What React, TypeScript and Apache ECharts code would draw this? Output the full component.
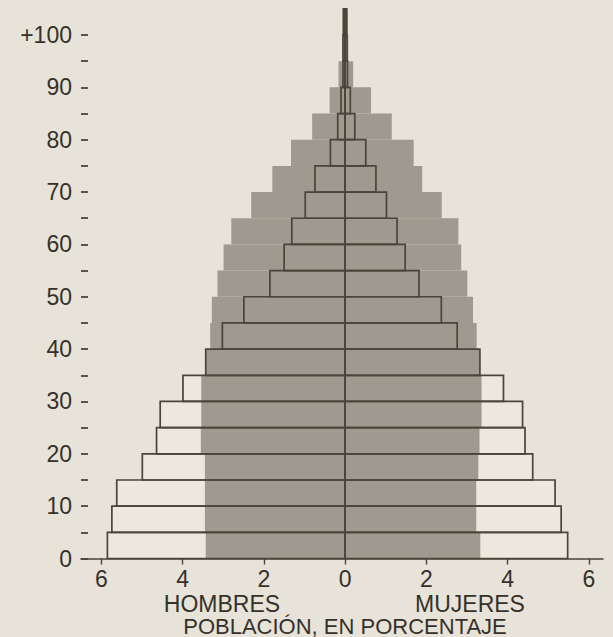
import React, { useEffect, useRef } from "react";
import * as echarts from "echarts";

// Age groups (5-year bands), start age of each band
const ageStarts = [0, 5, 10, 15, 20, 25, 30, 35, 40, 45, 50, 55, 60, 65, 70, 75, 80, 85, 90, 95, 100];
const ageLabels = ["0-4", "5-9", "10-14", "15-19", "20-24", "25-29", "30-34", "35-39", "40-44", "45-49", "50-54", "55-59", "60-64", "65-69", "70-74", "75-79", "80-84", "85-89", "90-94", "95-99", "+100"];

// Outlined pyramid (percent of population)
const hombresContorno = [5.85, 5.74, 5.62, 4.99, 4.64, 4.55, 3.99, 3.43, 3.02, 2.49, 1.85, 1.5, 1.31, 0.98, 0.74, 0.36, 0.18, 0.1, 0.05, 0.05, 0.04];
const mujeresContorno = [5.48, 5.32, 5.17, 4.62, 4.43, 4.37, 3.9, 3.32, 2.76, 2.37, 1.82, 1.48, 1.28, 1.02, 0.76, 0.51, 0.24, 0.13, 0.06, 0.05, 0.04];

// Shaded (stippled) pyramid (percent of population)
const hombresSombreado = [3.43, 3.45, 3.45, 3.45, 3.55, 3.54, 3.54, 3.43, 3.32, 3.28, 3.14, 2.99, 2.8, 2.31, 1.79, 1.33, 0.81, 0.38, 0.16, 0.07, 0.06];
const mujeresSombreado = [3.33, 3.23, 3.23, 3.28, 3.31, 3.36, 3.36, 3.32, 3.24, 3.15, 3.01, 2.86, 2.79, 2.38, 1.9, 1.69, 1.15, 0.64, 0.2, 0.08, 0.07];

const xTicks = [-6, -4, -2, 0, 2, 4, 6];
const yTicks = [0, 5, 10, 15, 20, 25, 30, 35, 40, 45, 50, 55, 60, 65, 70, 75, 80, 85, 90, 95, 100];
const yLabels = [0, 10, 20, 30, 40, 50, 60, 70, 80, 90, 100];

const BAND = 5;
const FONT = "'Liberation Sans', Arial, Helvetica, sans-serif";
const INK = "#35312a";
const LINE = "#4a443a";
const PAPER = "#e7e3d8";

export default function App() {
  const ref = useRef<HTMLDivElement>(null);

  useEffect(() => {
    if (!ref.current) return;
    const chart = echarts.init(ref.current, undefined, { renderer: "svg" });

    const contorno = ageStarts.map((s, i) => [s, s + BAND, hombresContorno[i], mujeresContorno[i], ageLabels[i]]);
    const sombreado = ageStarts.map((s, i) => [s, s + BAND, hombresSombreado[i], mujeresSombreado[i], ageLabels[i]]);

    const corners = (api: any) => {
      const start = api.value(0);
      const end = api.value(1);
      const men = api.value(2);
      const women = api.value(3);
      const a = api.coord([-men, end]);
      const b = api.coord([0, start]);
      const c = api.coord([women, start]);
      return { a, b, c };
    };

    const textStyle = (text: string, size: number) => ({
      text,
      font: `${size}px ${FONT}`,
      fill: INK,
      align: "center",
      verticalAlign: "middle",
      lineHeight: 17,
    });

    chart.setOption({
      animation: false,
      backgroundColor: PAPER,
      grid: { left: 81, right: 10, top: 3.6, bottom: 78.5, containLabel: false },
      xAxis: {
        type: "value",
        min: -6.5,
        max: 6.35,
        splitLine: { show: false },
        axisLine: { show: true, onZero: false, lineStyle: { color: LINE, width: 1.6 } },
        axisTick: { show: true, inside: false, length: 6, customValues: xTicks, lineStyle: { color: LINE, width: 1.4 } },
        axisLabel: {
          customValues: xTicks,
          margin: 9,
          fontFamily: FONT,
          fontSize: 23,
          color: INK,
          formatter: (v: number) => String(Math.abs(v)),
        },
      },
      yAxis: {
        type: "value",
        min: 0,
        max: 106,
        position: "left",
        splitLine: { show: false },
        axisLine: { show: true, onZero: false, lineStyle: { color: PAPER, width: 0, opacity: 0 } },
        axisTick: { show: true, inside: true, length: 7, customValues: yTicks, lineStyle: { color: LINE, width: 1.8 } },
        axisLabel: {
          customValues: yLabels,
          margin: 9,
          fontFamily: FONT,
          fontSize: 23,
          color: INK,
          formatter: (v: number) => (v === 100 ? "+100" : String(v)),
        },
      },
      series: [
        {
          type: "custom",
          name: "contorno-relleno",
          clip: false,
          encode: { x: [2, 3], y: [0, 1] },
          data: contorno,
          renderItem: (params: any, api: any) => {
            const { a, c } = corners(api);
            return {
              type: "rect",
              shape: { x: a[0], y: a[1], width: c[0] - a[0], height: c[1] - a[1] },
              style: { fill: "#ece8de", stroke: "none" },
            };
          },
        },
        {
          type: "custom",
          name: "sombreado",
          clip: false,
          encode: { x: [2, 3], y: [0, 1] },
          data: sombreado,
          renderItem: (params: any, api: any) => {
            const { a, c } = corners(api);
            return {
              type: "rect",
              shape: { x: a[0], y: a[1], width: c[0] - a[0], height: c[1] - a[1] },
              style: { fill: "#9f9a8f", stroke: "none" },
            };
          },
        },
        {
          type: "custom",
          name: "contorno",
          clip: false,
          encode: { x: [2, 3], y: [0, 1] },
          data: contorno,
          renderItem: (params: any, api: any) => {
            const { a, b, c } = corners(api);
            return {
              type: "group",
              children: [
                {
                  type: "rect",
                  shape: { x: a[0], y: a[1], width: b[0] - a[0], height: b[1] - a[1] },
                  style: { fill: "none", stroke: LINE, lineWidth: 1.7 },
                },
                {
                  type: "rect",
                  shape: { x: b[0], y: a[1], width: c[0] - b[0], height: c[1] - a[1] },
                  style: { fill: "none", stroke: LINE, lineWidth: 1.7 },
                },
              ],
            };
          },
        },
      ],
      graphic: [
        { type: "text", x: 222, y: 603.5, style: textStyle("HOMBRES", 23) },
        { type: "text", x: 470, y: 603.5, style: textStyle("MUJERES", 23) },
        { type: "text", x: 345, y: 626, style: textStyle("POBLACIÓN, EN PORCENTAJE", 22) },
      ],
    });

    return () => chart.dispose();
  }, []);

  return (
    <div
      ref={ref}
      style={{ position: "fixed", left: 0, top: 0, width: 613, height: 637, background: PAPER }}
    />
  );
}
